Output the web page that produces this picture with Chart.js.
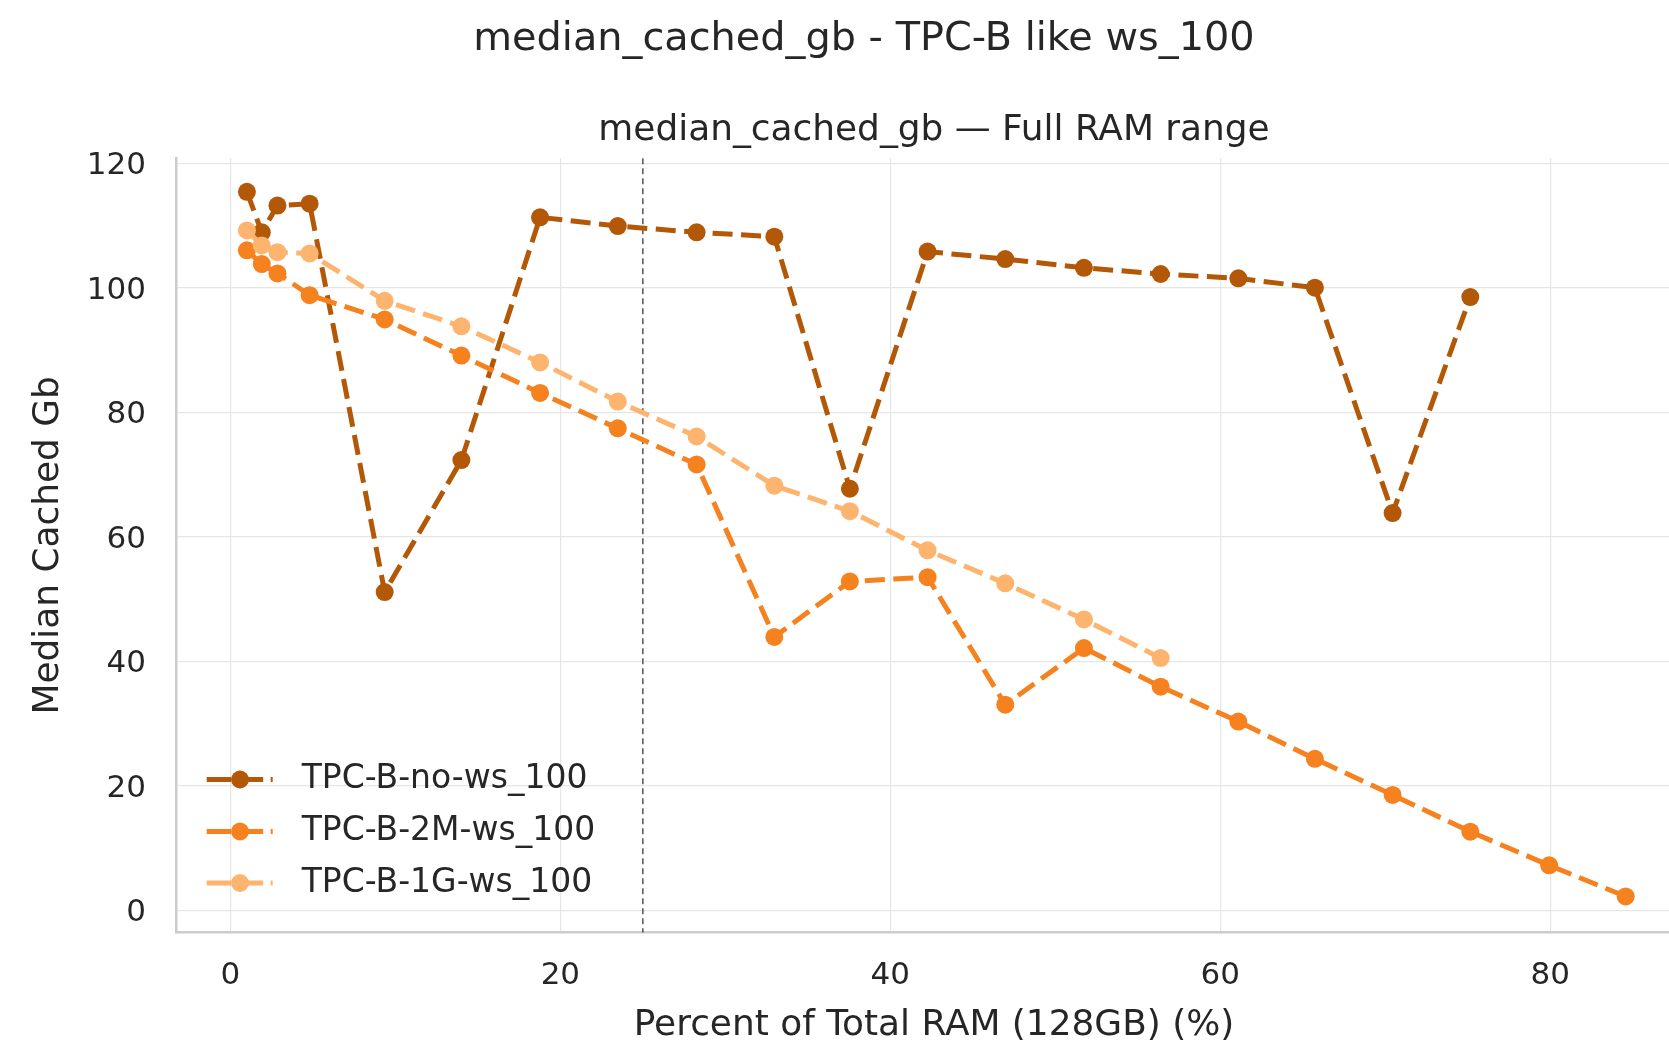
<!DOCTYPE html>
<html><head><meta charset="utf-8">
<script src="https://cdn.jsdelivr.net/npm/chart.js@4.4.1/dist/chart.umd.min.js"></script>
<style>html,body{margin:0;padding:0;overflow:hidden;background:#fff;width:1669px;height:1043px}canvas{display:block}</style>
</head><body>
<canvas id="c" width="1728" height="1043"></canvas>
<script>
// ---- data ----
const ramPct = [1.0, 1.9, 2.85, 4.8, 9.35, 14.0, 18.77, 23.48, 28.26, 32.97, 37.55, 42.26, 46.97, 51.74, 56.39, 61.1, 65.74, 70.45, 75.16, 79.94, 84.58];
const seriesLabels = ['TPC-B-no-ws_100', 'TPC-B-2M-ws_100', 'TPC-B-1G-ws_100'];
const noWs = [115.4, 108.9, 113.2, 113.5, 51.1, 72.3, 111.3, 109.9, 108.9, 108.2, 67.7, 105.8, 104.6, 103.2, 102.2, 101.5, 100.0, 63.8, 98.5];
const twoM = [106.0, 103.8, 102.3, 98.8, 94.9, 89.1, 83.1, 77.4, 71.6, 43.9, 52.8, 53.5, 33.0, 42.1, 35.9, 30.3, 24.3, 18.5, 12.6, 7.2, 2.2];
const oneG = [109.2, 106.8, 105.7, 105.5, 97.9, 93.8, 88.0, 81.7, 76.1, 68.2, 64.1, 57.8, 52.5, 46.7, 40.5];
const xTicks = [0, 20, 40, 60, 80];
const yTicks = [0, 20, 40, 60, 80, 100, 120];
const markerLinePct = 25;
const mainTitle = 'median_cached_gb - TPC-B like ws_100';
const subTitle = 'median_cached_gb \u2014 Full RAM range';
const xTitle = 'Percent of Total RAM (128GB) (%)';
const yTitle = 'Median Cached Gb';

// ---- styles ----
const colors = ['#b35806', '#f5821f', '#fdb46e'];
const FONT = "'DejaVu Sans', sans-serif";
const TXT = '#262626';
const DASH = [20, 8.5];

Chart.defaults.font.family = FONT;
Chart.defaults.color = TXT;

const seriesVals = [noWs, twoM, oneG];
const datasets = seriesVals.map((vals, i) => ({
  label: seriesLabels[i],
  data: vals.map((v, j) => ({ x: ramPct[j], y: v })),
  borderColor: colors[i],
  backgroundColor: colors[i],
  pointBackgroundColor: colors[i],
  pointBorderColor: colors[i],
  pointBorderWidth: 0,
  pointRadius: 9,
  borderWidth: 5,
  borderDash: DASH,
  tension: 0,
  fill: false,
  order: 2 - i,
  yAxisID: 'y'
}));

const refLine = {
  id: 'refLine',
  beforeDatasetsDraw(chart) {
    const { ctx, chartArea: { top, bottom }, scales: { x } } = chart;
    const px = x.getPixelForValue(markerLinePct);
    ctx.save();
    ctx.strokeStyle = '#555555';
    ctx.lineWidth = 1.5;
    ctx.setLineDash([6, 4]);
    ctx.beginPath();
    ctx.moveTo(px, top);
    ctx.lineTo(px, bottom);
    ctx.stroke();
    ctx.restore();
  }
};

const mplLegend = {
  id: 'mplLegend',
  afterDraw(chart) {
    const ctx = chart.ctx;
    const rowY = [779.5, 831.5, 883];
    const hx0 = 206.7, hx1 = 272.7, mx = 240, tx = 301.7;
    ctx.save();
    chart.data.datasets.forEach((ds, i) => {
      const y = rowY[i];
      ctx.strokeStyle = ds.borderColor;
      ctx.lineWidth = 5;
      ctx.setLineDash([24.5, 12, 20, 7.5, 2, 100]);
      ctx.beginPath();
      ctx.moveTo(hx0, y);
      ctx.lineTo(hx1, y);
      ctx.stroke();
      ctx.setLineDash([]);
      ctx.fillStyle = ds.borderColor;
      ctx.beginPath();
      ctx.arc(mx, y, 9, 0, Math.PI * 2);
      ctx.fill();
      ctx.fillStyle = TXT;
      ctx.font = "33px " + FONT;
      ctx.textBaseline = 'middle';
      ctx.textAlign = 'left';
      ctx.fillText(ds.label, tx, y);
    });
    ctx.restore();
  }
};

new Chart(document.getElementById('c'), {
  type: 'line',
  data: { datasets },
  plugins: [refLine, mplLegend],
  options: {
    responsive: false,
    devicePixelRatio: 1,
    animation: false,
    layout: { padding: 0 },
    plugins: {
      legend: { display: false },
      tooltip: { enabled: false },
      title: {
        display: true, text: mainTitle, color: TXT,
        font: { size: 39.8, weight: 'normal' },
        padding: { top: 16, bottom: 45.2 }
      },
      subtitle: {
        display: true, text: subTitle, color: TXT, fullSize: false,
        font: { size: 35.9, weight: 'normal' },
        padding: { top: 0, bottom: 6.2 }
      }
    },
    scales: {
      x: {
        type: 'linear', min: -3.3, max: 88.6,
        afterBuildTicks: s => { s.ticks = xTicks.map(v => ({ value: v })); },
        afterFit: s => { s.height = 110.6; },
        grid: { color: '#e6e6e6', lineWidth: 1.2, drawTicks: false },
        border: { display: true, color: '#cccccc', width: 2.5 },
        ticks: { font: { size: 31 }, padding: 25, color: TXT, maxRotation: 0 },
        title: { display: true, text: xTitle, color: TXT, font: { size: 35.9 }, padding: { top: 0, bottom: -4 } }
      },
      y: {
        type: 'linear', min: -3.58, max: 120.8,
        afterBuildTicks: s => { s.ticks = yTicks.map(v => ({ value: v })); },
        afterFit: s => { s.width = 176; },
        grid: { color: '#e6e6e6', lineWidth: 1.2, drawTicks: false },
        border: { display: true, color: '#cccccc', width: 2.5 },
        ticks: { font: { size: 31 }, padding: 30, color: TXT, labelOffset: 3 },
        title: { display: true, text: yTitle, color: TXT, font: { size: 35.9 }, padding: { top: 27, bottom: 0 } }
      },
      yR: {
        type: 'linear', position: 'right', display: true,
        afterFit: s => { s.width = 36; },
        grid: { display: false, drawTicks: false },
        border: { display: false },
        ticks: { display: false },
        title: { display: false }
      }
    }
  }
});
</script>
</body></html>
